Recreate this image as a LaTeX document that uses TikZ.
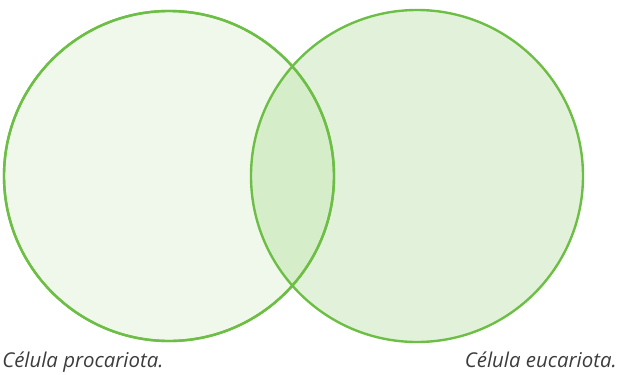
\documentclass[tikz,border=0pt]{standalone}
\usepackage{fontspec}
\setmainfont{Open Sans}
\definecolor{venngreen}{RGB}{109,190,69}
\definecolor{labelgray}{RGB}{60,60,60}

\begin{document}
\begin{tikzpicture}[
		x=0.75pt, y=-0.75pt,
		cell/.style={circle, draw=venngreen, line width=1.8pt, minimum size=247.5pt, inner sep=0pt},
		caption/.style={font=\fontsize{15.3}{17}\selectfont\itshape, text=labelgray, inner sep=0pt}
		]
		\useasboundingbox (0,0) rectangle (618,375);
		
		% ==========================================
		% 1. THE TWO SETS
		% ==========================================
		\node[cell, fill=venngreen, fill opacity=0.10] (proc) at (169,176) {};
		\node[cell, fill=venngreen, fill opacity=0.20, minimum size=249pt] (euca) at (417,176) {};
		% redraw the left rim on top
		\draw[venngreen, line width=1.8pt] (proc.center) circle[radius=123.75pt];
		
		% ==========================================
		% 2. LABELS
		% ==========================================
		\node[caption, anchor=base west] (lproc) at (2,367) {Célula procariota.};
		\node[caption, anchor=base east] (leuca) at (617,367) {Célula eucariota.};
		
	\end{tikzpicture}
\end{document}
